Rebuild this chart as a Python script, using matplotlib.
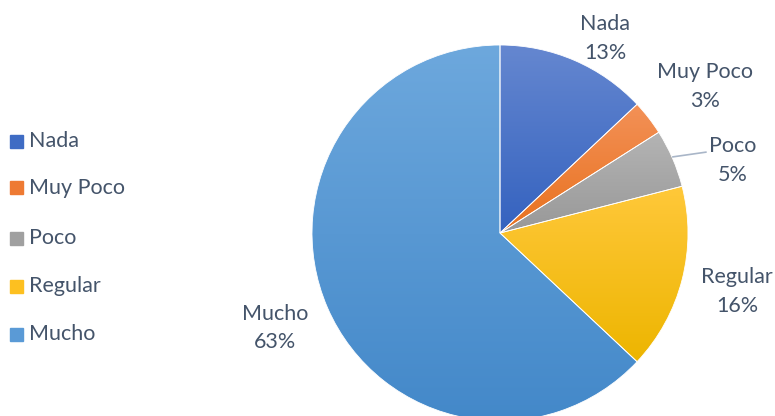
import matplotlib.pyplot as plt
import numpy as np
from matplotlib.colors import LinearSegmentedColormap
from matplotlib.patches import Rectangle

categories = ["Nada", "Muy Poco", "Poco", "Regular", "Mucho"]
values = [13, 3, 5, 16, 63]
pct_labels = ["13%", "3%", "5%", "16%", "63%"]

# gradient (top, bottom) per slice, Excel-like
grads = [("#6587D0", "#3462BF"),
         ("#F39157", "#E8711E"),
         ("#B4B4B4", "#989898"),
         ("#FFC83A", "#EDB500"),
         ("#6DA8DD", "#4388C9")]
legend_cols = ["#3F6CC4", "#EE7A33", "#A0A0A0", "#FDC020", "#5A9AD6"]
# label positions (units of pie radius)
label_pos = [(0.559, 1.035), (1.09, 0.78), (1.239, 0.385), (1.26, -0.31), (-1.197, -0.505)]
text_col = "#44546A"

W, H = 775, 416
fig = plt.figure(figsize=(W / 100, H / 100), dpi=100)
cx, cy, r = 500, 233, 188
ax = fig.add_axes([(cx - 2 * r) / W, (H - cy - 2 * r) / H, 4 * r / W, 4 * r / H])

wedges, _ = ax.pie(values, startangle=90, counterclock=False, radius=1,
                   center=(0, 0), frame=True,
                   wedgeprops=dict(linewidth=0.6, edgecolor="white"))

grad = np.linspace(0, 1, 256).reshape(-1, 1)
for w, (top, bot) in zip(wedges, grads):
    w.set_facecolor("none")
    verts = w.get_path().vertices
    x0, x1 = verts[:, 0].min(), verts[:, 0].max()
    y0, y1 = verts[:, 1].min(), verts[:, 1].max()
    cmap = LinearSegmentedColormap.from_list("g", [top, bot])
    im = ax.imshow(grad, cmap=cmap, extent=(x0, x1, y0, y1), origin="upper",
                   aspect="auto", zorder=w.get_zorder() - 0.5)
    im.set_clip_path(w)

ax.set_xlim(-2, 2)
ax.set_ylim(-2, 2)
ax.set_aspect("equal")
ax.axis("off")

for (lx, ly), cat, p in zip(label_pos, categories, pct_labels):
    ax.text(lx, ly, f"{cat}\n{p}", ha="center", va="center", color=text_col,
            fontsize=15.5, family="Lato", linespacing=1.55)

# leader line for Poco
ax.plot([0.92, 1.095], [0.405, 0.43], color="#A9B6C8", lw=1.2)

# legend
leg_y = [141, 188, 238, 286, 334]
for c, cat, y in zip(legend_cols, categories, leg_y):
    fig.patches.append(Rectangle((10 / W, (H - y - 6.5) / H), 13 / W, 13 / H,
                                 transform=fig.transFigure, color=c))
    fig.text(29 / W, (H - y) / H, cat, ha="left", va="center", color=text_col,
             fontsize=15.5, family="Lato")

fig.savefig("out.png", dpi=100)
